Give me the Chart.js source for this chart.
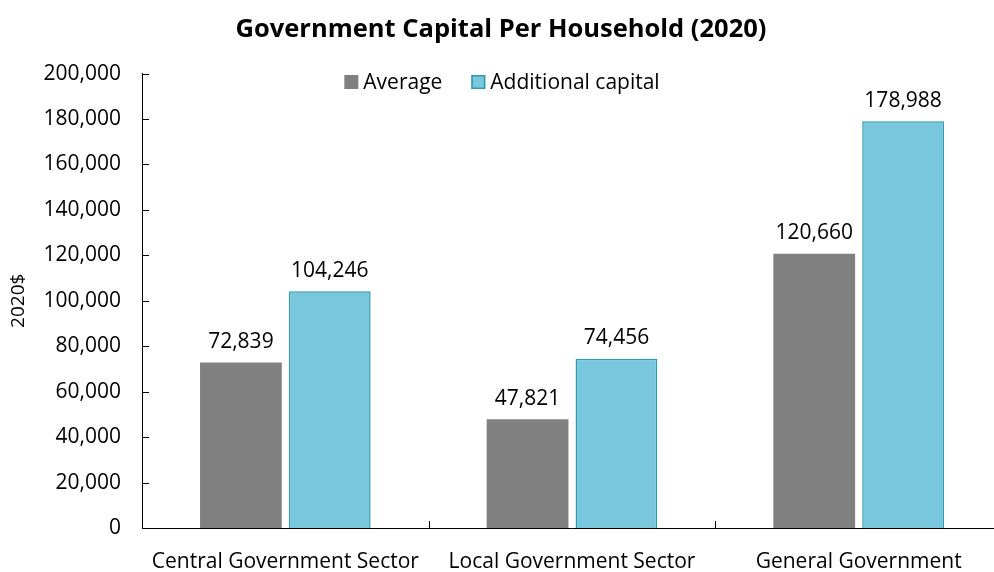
<!DOCTYPE html>
<html>
<head>
<meta charset="utf-8">
<script src="https://cdn.jsdelivr.net/npm/chart.js@4.4.1/dist/chart.umd.min.js"></script>
<style>
  html, body { margin: 0; padding: 0; background: #fff; overflow: hidden; }
  #wrap { width: 1002px; height: 572px; }
</style>
</head>
<body>
<div id="wrap"><canvas id="chart"></canvas></div>
<script>
const categories = ['Central Government Sector', 'Local Government Sector', 'General Government'];
const averageValues = [72839, 47821, 120660];
const additionalValues = [104246, 74456, 178988];
const yTicks = [0, 20000, 40000, 60000, 80000, 100000, 120000, 140000, 160000, 180000, 200000];

const FONT = "'Open Sans', sans-serif";
const fmt = v => v.toLocaleString('en-US');

// Excel-style inside tick marks, value labels and a legend sitting inside the plot
const extras = {
  id: 'extras',
  afterDatasetsDraw(chart) {
    const { ctx, chartArea, scales: { x, y } } = chart;
    ctx.save();
    ctx.strokeStyle = '#000';
    ctx.lineWidth = 1;
    // y ticks pointing right
    y.ticks.forEach(t => {
      const py = Math.round(y.getPixelForValue(t.value)) + 0.5;
      ctx.beginPath();
      ctx.moveTo(chartArea.left, py);
      ctx.lineTo(chartArea.left + 7, py);
      ctx.stroke();
    });
    // x ticks pointing up, between categories
    const step = x.getPixelForValue(1) - x.getPixelForValue(0);
    for (let i = 0; i < categories.length - 1; i++) {
      const px = Math.round(x.getPixelForValue(i) + step / 2) + 0.5;
      ctx.beginPath();
      ctx.moveTo(px, chartArea.bottom);
      ctx.lineTo(px, chartArea.bottom - 7);
      ctx.stroke();
    }
    // value labels
    ctx.fillStyle = '#000';
    ctx.font = '21px ' + FONT;
    ctx.textAlign = 'center';
    ctx.textBaseline = 'bottom';
    chart.data.datasets.forEach((ds, di) => {
      chart.getDatasetMeta(di).data.forEach((bar, i) => {
        ctx.fillText(fmt(ds.data[i]), bar.x, bar.y - 10);
      });
    });
    // legend
    const items = chart.data.datasets.map(ds => ({ label: ds.label, fill: ds.backgroundColor, stroke: ds.borderColor }));
    ctx.font = '21px ' + FONT;
    const box = 14, gap = 5, spacing = 29;
    const widths = items.map(it => box + gap + ctx.measureText(it.label).width);
    const total = widths.reduce((a, b) => a + b, 0) + spacing * (items.length - 1);
    let lx = chart.width / 2 + 1 - total / 2;
    const ly = 82;
    ctx.textAlign = 'left';
    ctx.textBaseline = 'middle';
    items.forEach((it, i) => {
      ctx.fillStyle = it.fill;
      ctx.fillRect(lx, ly - box / 2, box, box);
      if (it.stroke) {
        ctx.strokeStyle = it.stroke;
        ctx.lineWidth = 1.5;
        ctx.strokeRect(lx + 0.75, ly - box / 2 + 0.75, box - 1.5, box - 1.5);
      }
      ctx.fillStyle = '#000';
      ctx.fillText(it.label, lx + box + gap, ly + 1);
      lx += widths[i] + spacing;
    });
    ctx.restore();
  }
};

new Chart(document.getElementById('chart'), {
  type: 'bar',
  data: {
    labels: categories,
    datasets: [
      {
        label: 'Average',
        data: averageValues,
        backgroundColor: '#808080',
        borderWidth: 0,
        categoryPercentage: 0.62,
        barPercentage: 0.92
      },
      {
        label: 'Additional capital',
        data: additionalValues,
        backgroundColor: '#78c7dc',
        borderColor: '#2f9ab4',
        borderWidth: 1.5,
        categoryPercentage: 0.62,
        barPercentage: 0.92
      }
    ]
  },
  options: {
    responsive: true,
    maintainAspectRatio: false,
    animation: false,
    layout: { padding: { left: 0, right: 0, top: 0, bottom: 0 } },
    plugins: {
      legend: { display: false },
      tooltip: { enabled: false },
      title: {
        display: true,
        text: 'Government Capital Per Household (2020)',
        color: '#000',
        font: { family: FONT, size: 25.5, weight: 'bold' },
        padding: { top: 14, bottom: 29 }
      }
    },
    scales: {
      x: {
        grid: { display: false, drawTicks: false },
        border: { display: true, color: '#000', width: 1 },
        ticks: { color: '#000', font: { family: FONT, size: 21 }, padding: 21, maxRotation: 0 },
        afterFit(scale) { scale.height = 44; }
      },
      y: {
        min: 0,
        max: 200000,
        afterBuildTicks(scale) { scale.ticks = yTicks.map(v => ({ value: v })); },
        grid: { display: false, drawTicks: false },
        border: { display: true, color: '#000', width: 1 },
        ticks: { color: '#000', font: { family: FONT, size: 21 }, padding: 21, callback: v => fmt(v) },
        title: { display: true, text: '2020$', color: '#000', font: { family: FONT, size: 19 }, padding: { top: 7, bottom: 0 } },
        afterFit(scale) { scale.width = 142; }
      }
    }
  },
  plugins: [extras]
});
</script>
</body>
</html>
